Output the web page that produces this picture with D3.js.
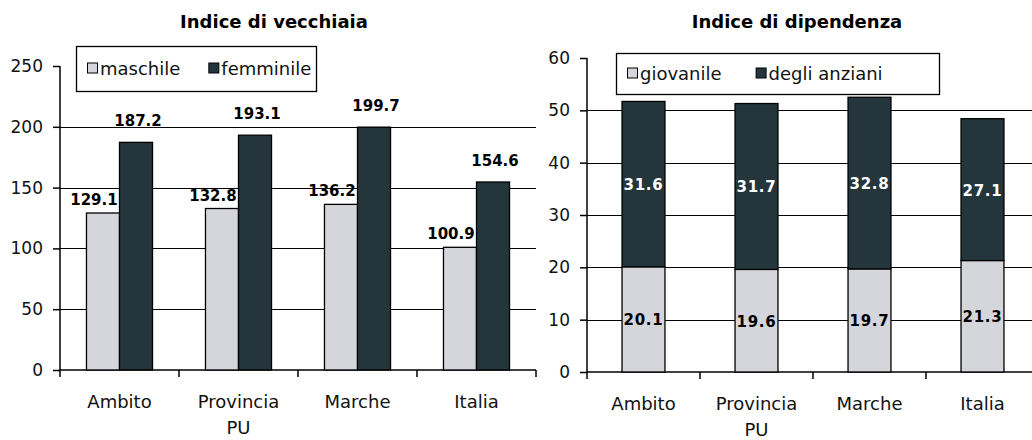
<!DOCTYPE html>
<html>
<head>
<meta charset="utf-8">
<script src="https://cdn.jsdelivr.net/npm/d3@7"></script>
<style>
  body { margin: 0; background: #fff; }
  svg { display: block; }
</style>
</head>
<body>
<div id="chart"></div>
<script>
// data
var categories = ["Ambito", "Provincia\nPU", "Marche", "Italia"];

var sexSeries = ["maschile", "femminile"];
var maschile = [129.1, 132.8, 136.2, 100.9];
var femminile = [187.2, 193.1, 199.7, 154.6];
var oldTicks = [0, 50, 100, 150, 200, 250];

var depSeries = ["giovanile", "degli anziani"];
var giovanile = [20.1, 19.6, 19.7, 21.3];
var anziani = [31.6, 31.7, 32.8, 27.1];
var depTicks = [0, 10, 20, 30, 40, 50, 60];

var light = "#d5d5dc", dark = "#24363b";
var font = "DejaVu Sans";

var svg = d3.select("#chart").append("svg").attr("width", 1032).attr("height", 440);
svg.append("rect").attr("width", 1032).attr("height", 440).attr("fill", "#fff");

function drawFrame(g, x, y, ticks, x0, x1) {
    // gridlines (skip 0 and top)
    g.selectAll(".grid").data(ticks.slice(1, -1)).enter().append("line")
        .attr("x1", x0).attr("x2", x1)
        .attr("y1", function (d) { return Math.round(y(d)) + 0.5; })
        .attr("y2", function (d) { return Math.round(y(d)) + 0.5; })
        .attr("stroke", "#000").attr("stroke-width", 1.2);

    var ax = g.append("g").attr("transform", "translate(" + x0 + ",0)")
        .call(d3.axisLeft(y).tickValues(ticks).tickSize(7).tickPadding(10));
    ax.select(".domain").attr("stroke-width", 1.5).attr("d", "M0," + y(ticks[ticks.length - 1]) + "V" + y(0));
    ax.selectAll(".tick line").attr("stroke-width", 1.5);
    ax.selectAll("text").style("font-family", font).style("font-size", "17px").attr("fill", "#111");

    // x axis line and category boundary ticks
    g.append("line").attr("x1", x0).attr("x2", x1).attr("y1", y(0)).attr("y2", y(0))
        .attr("stroke", "#000").attr("stroke-width", 1.5);
    var bounds = categories.map(function (c, i) { return x.range()[0] + i * x.step(); });
    bounds.push(x.range()[1]);
    g.selectAll(".xt").data(bounds).enter().append("line")
        .attr("x1", function (d) { return d; }).attr("x2", function (d) { return d; })
        .attr("y1", y(0)).attr("y2", y(0) + 7)
        .attr("stroke", "#000").attr("stroke-width", 1.5);

    // category labels
    var lab = g.selectAll(".cat").data(categories).enter().append("text")
        .attr("text-anchor", "middle")
        .style("font-family", font).style("font-size", "18px").attr("fill", "#111");
    lab.each(function (c) {
        var t = d3.select(this);
        c.split("\n").forEach(function (line, i) {
            t.append("tspan").attr("x", x(c) + x.bandwidth() / 2)
                .attr("y", y(0) + 38 + i * 26).text(line);
        });
    });
}

function drawTitle(text, cx) {
    svg.append("text").attr("x", cx).attr("y", 28).attr("text-anchor", "middle")
        .style("font-family", font).style("font-size", "18px").style("font-weight", "bold")
        .text(text);
}

function drawLegend(names, colors, box, gap) {
    var lg = svg.append("g");
    lg.append("rect").attr("x", box[0] + 0.5).attr("y", box[1] + 0.5)
        .attr("width", box[2]).attr("height", box[3])
        .attr("fill", "#fff").attr("stroke", "#000").attr("stroke-width", 1.3);
    var cy = box[1] + box[3] / 2;
    var xx = box[0] + 11;
    names.forEach(function (n, i) {
        lg.append("rect").attr("x", xx + 0.5).attr("y", cy - 5.5).attr("width", 10).attr("height", 10)
            .attr("fill", colors[i]).attr("stroke", "#000").attr("stroke-width", 1);
        var t = lg.append("text").attr("x", xx + 13).attr("y", cy + 6)
            .style("font-family", font).style("font-size", "18px").attr("fill", "#111").text(n);
        xx += 13 + t.node().getComputedTextLength() + gap[i];
    });
}

// ---------- left chart: Indice di vecchiaia ----------
var yL = d3.scaleLinear().domain([0, 250]).range([370, 66]);
var xL = d3.scaleBand().domain(categories).range([60, 536]).paddingInner(0.445).paddingOuter(0.2225);
var xsL = d3.scaleBand().domain(sexSeries).range([0, xL.bandwidth()]);

var gL = svg.append("g");
drawFrame(gL, xL, yL, oldTicks, 60, 536);

var sexData = [maschile, femminile];
sexSeries.forEach(function (s, si) {
    var vals = sexData[si];
    gL.selectAll(".bar" + si).data(categories).enter().append("rect")
        .attr("x", function (c) { return xL(c) + xsL(s); })
        .attr("y", function (c, i) { return yL(vals[i]); })
        .attr("width", xsL.bandwidth())
        .attr("height", function (c, i) { return yL(0) - yL(vals[i]); })
        .attr("fill", si === 0 ? light : dark)
        .attr("stroke", "#000").attr("stroke-width", 1.3);
    gL.selectAll(".val" + si).data(categories).enter().append("text")
        .attr("x", function (c) { return xL(c) + xsL(s) + xsL.bandwidth() / 2 + (si === 0 ? -9 : 2); })
        .attr("y", function (c, i) { return yL(vals[i]) - (si === 0 ? 8 : 16); })
        .attr("text-anchor", "middle")
        .style("font-family", font).style("font-size", "15px").style("font-weight", "bold")
        .text(function (c, i) { return vals[i].toFixed(1); });
});

drawTitle("Indice di vecchiaia", 274);
drawLegend(sexSeries, [light, dark], [76, 46, 240, 45], [28, 0]);

// ---------- right chart: Indice di dipendenza ----------
var yR = d3.scaleLinear().domain([0, 60]).range([372, 58]);
var xR = d3.scaleBand().domain(categories).range([587, 1039]).paddingInner(0.62).paddingOuter(0.31);
var gR = svg.append("g");
drawFrame(gR, xR, yR, depTicks, 587, 1039);

var stackRows = categories.map(function (c, i) { return { cat: c, giovanile: giovanile[i], "degli anziani": anziani[i] }; });
var stacked = d3.stack().keys(depSeries)(stackRows);

stacked.forEach(function (layer, li) {
    gR.selectAll(".seg" + li).data(layer).enter().append("rect")
        .attr("x", function (d) { return xR(d.data.cat); })
        .attr("y", function (d) { return yR(d[1]); })
        .attr("width", xR.bandwidth())
        .attr("height", function (d) { return yR(d[0]) - yR(d[1]); })
        .attr("fill", li === 0 ? light : dark)
        .attr("stroke", "#000").attr("stroke-width", 1.3);
    gR.selectAll(".lab" + li).data(layer).enter().append("text")
        .attr("x", function (d) { return xR(d.data.cat) + xR.bandwidth() / 2; })
        .attr("y", function (d) { return yR((d[0] + d[1]) / 2) + 6; })
        .attr("text-anchor", "middle")
        .attr("fill", li === 0 ? "#000" : "#fff")
        .style("font-family", font).style("font-size", "15px").style("font-weight", "bold")
        .style("letter-spacing", "0.8px")
        .text(function (d) { return (d[1] - d[0]).toFixed(1); });
});

drawTitle("Indice di dipendenza", 797);
drawLegend(depSeries, [light, dark], [616, 53, 323, 41], [34, 0]);
</script>
</body>
</html>
